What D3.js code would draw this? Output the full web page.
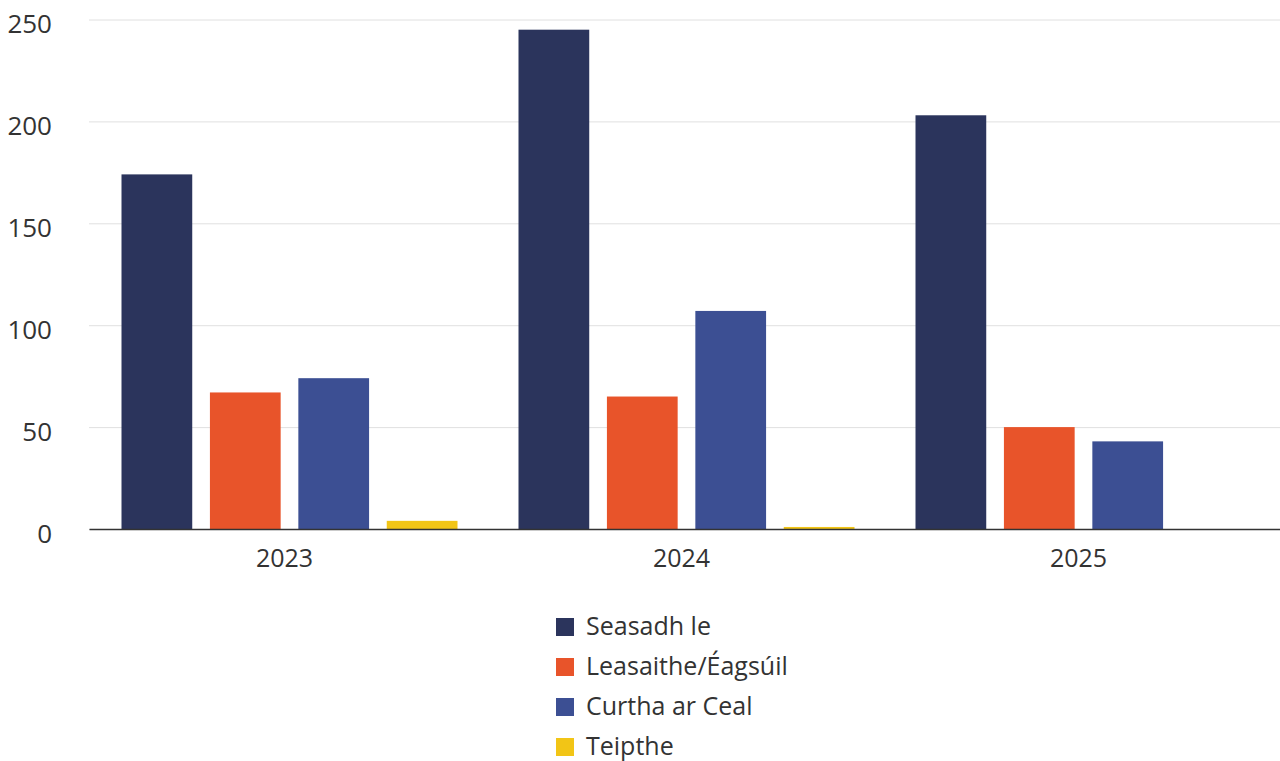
<!DOCTYPE html>
<html>
<head>
<meta charset="utf-8">
<script src="https://cdn.jsdelivr.net/npm/d3@7"></script>
<style>
  html, body { margin: 0; padding: 0; background: #fff; }
  svg { display: block; font-family: "Open Sans", sans-serif; }
</style>
</head>
<body>
<svg id="chart" width="1280" height="761"></svg>
<script>
// ---- data ----
const categories = ["2023", "2024", "2025"];
const seriesNames = ["Seasadh le", "Leasaithe/Éagsúil", "Curtha ar Ceal", "Teipthe"];
const seriesColors = ["#2b345c", "#e8542a", "#3c4f93", "#f2c516"];
const seasadhLe = [174, 245, 203];
const leasaithe = [67, 65, 50];
const curthaArCeal = [74, 107, 43];
const teipthe = [4, 1, 0];
const yTicks = [0, 50, 100, 150, 200, 250];

const seriesValues = [seasadhLe, leasaithe, curthaArCeal, teipthe];

// ---- layout ----
const svg = d3.select("#chart");
const margin = { left: 89, right: 0, top: 19.5 };
const W = 1280;
const plotBottom = 529;

const x0 = d3.scaleBand().domain(categories).range([margin.left, W - margin.right]).padding(0);
const groupWidth = 336;
const x1 = d3.scaleBand().domain(seriesNames).range([0, groupWidth]).paddingInner(0.2).paddingOuter(0);
const y = d3.scaleLinear().domain([0, 250]).range([plotBottom, margin.top]);

// gridlines
const grid = svg.append("g")
  .attr("transform", `translate(${margin.left},0)`)
  .call(d3.axisLeft(y).tickValues(yTicks).tickSize(-(W - margin.left)).tickFormat(""));
grid.select(".domain").remove();
grid.selectAll(".tick line").attr("stroke", "#e0e0e0").attr("stroke-width", 1);

// y labels
const yAxis = svg.append("g")
  .attr("transform", `translate(52,0)`)
  .call(d3.axisLeft(y).tickValues(yTicks).tickSize(0).tickPadding(0));
yAxis.select(".domain").remove();
yAxis.selectAll(".tick text")
  .attr("font-family", "'Open Sans', sans-serif")
  .attr("font-size", 26)
  .attr("fill", "#333")
  .attr("dy", "0.5em");

// bars
const rows = categories.map((c, i) => ({ cat: c, vals: seriesNames.map((s, j) => ({ s, v: seriesValues[j][i], color: seriesColors[j] })) }));
const groups = svg.append("g").selectAll("g").data(rows).join("g")
  .attr("transform", d => `translate(${x0(d.cat) + x0.bandwidth() / 2 - groupWidth / 2 + 2},0)`);
groups.selectAll("rect").data(d => d.vals.filter(v => v.v > 0)).join("rect")
  .attr("x", d => x1(d.s))
  .attr("width", x1.bandwidth())
  .attr("y", d => y(d.v))
  .attr("height", d => y(0) - y(d.v))
  .attr("fill", d => d.color);

// x axis
const xAxis = svg.append("g")
  .attr("transform", `translate(0,${plotBottom})`)
  .call(d3.axisBottom(x0).tickSize(0).tickPadding(20));
xAxis.select(".domain").attr("stroke", "#333").attr("stroke-width", 1.5);
xAxis.selectAll(".tick text")
  .attr("font-family", "'Open Sans', sans-serif")
  .attr("font-size", 25)
  .attr("fill", "#333")
  .attr("dx", "-3");

// legend
const legend = svg.append("g").attr("transform", "translate(556,627)");
const li = legend.selectAll("g").data(seriesNames).join("g")
  .attr("transform", (d, i) => `translate(0,${i * 40})`);
li.append("rect").attr("x", 0).attr("y", -9).attr("width", 18).attr("height", 18)
  .attr("fill", (d, i) => seriesColors[i]);
li.append("text").attr("x", 30).attr("y", 0).attr("dy", "0.3em")
  .attr("font-size", 25).attr("fill", "#333").text(d => d);
</script>
</body>
</html>
